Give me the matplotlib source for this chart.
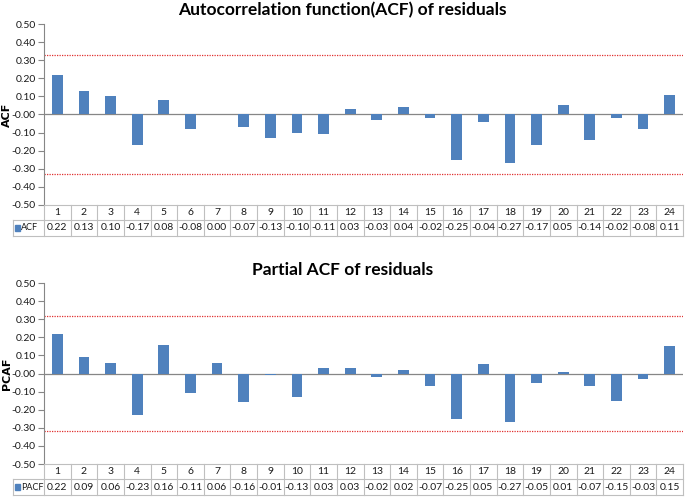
import numpy as np
import matplotlib.pyplot as plt
from matplotlib.patches import Rectangle

plt.rcParams['font.family'] = ['Lato', 'DejaVu Sans']

lags = list(range(1, 25))
acf = [0.22, 0.13, 0.10, -0.17, 0.08, -0.08, 0.00, -0.07, -0.13, -0.10, -0.11, 0.03,
       -0.03, 0.04, -0.02, -0.25, -0.04, -0.27, -0.17, 0.05, -0.14, -0.02, -0.08, 0.11]
pacf = [0.22, 0.09, 0.06, -0.23, 0.16, -0.11, 0.06, -0.16, -0.01, -0.13, 0.03, 0.03,
        -0.02, 0.02, -0.07, -0.25, 0.05, -0.27, -0.05, 0.01, -0.07, -0.15, -0.03, 0.15]
conf_acf = 0.33
conf_pacf = 0.32

W, H = 685, 497
BLUE = '#4F81BD'
GRID = '#BFBFBF'
TXT = '#1A1A1A'

fig = plt.figure(figsize=(W / 100, H / 100), dpi=100)


def px_rect(left, top, right, bottom):
    return [left / W, 1 - bottom / H, (right - left) / W, (bottom - top) / H]


def panel(values, conf, name, ylabel, title, top, bottom, title_y):
    left, right = 44, 683
    ax = fig.add_axes(px_rect(left, top, right, bottom))
    ax.bar(lags, values, width=0.4, color=BLUE, zorder=3)
    ax.axhline(0, color='#868686', lw=0.9, zorder=2)
    for c in (conf, -conf):
        ax.axhline(c, color='#E03030', lw=0.9, ls=(0, (1, 1)), zorder=2)
    ax.set_xlim(0.5, 24.5)
    ax.set_ylim(-0.5, 0.5)
    ax.set_yticks(np.arange(-0.5, 0.51, 0.1))
    ax.set_yticklabels([f'{v:.2f}' for v in np.arange(-0.5, 0.51, 0.1)])
    ax.set_xticks([])
    for s in ('top', 'right', 'bottom'):
        ax.spines[s].set_visible(False)
    ax.spines['left'].set_color('#868686')
    ax.tick_params(axis='y', length=4, color='#868686', labelsize=7.5, labelcolor=TXT, pad=2)
    ax.set_ylabel(ylabel, fontsize=8, fontweight='bold', color='black',
                  family=['DejaVu Sans'])
    ax.yaxis.set_label_coords(-0.05, 0.5)
    fig.text(0.5, 1 - title_y / H, title, ha='center', va='center', fontsize=12.5,
             fontweight='bold', color='black')

    # data table under the plot
    tleft = 13
    row1 = bottom + 15
    row2 = row1 + 16
    cw = (right - left) / 24
    tax = fig.add_axes(px_rect(tleft, bottom, right, row2))
    tax.set_xlim(-(left - tleft) / cw, 24)
    tax.set_ylim(2, 0)
    tax.axis('off')
    h1 = (row1 - bottom) / (row2 - bottom) * 2
    x0 = -(left - tleft) / cw
    kw = dict(color=GRID, lw=0.8, clip_on=False)
    tax.plot([0, 24], [0, 0], **kw)
    tax.plot([0, 24], [h1, h1], **kw)
    tax.plot([x0, 24], [2, 2], **kw)
    tax.plot([x0, 0], [h1, h1], **kw)
    tax.plot([x0, x0], [h1, 2], **kw)
    for i in range(25):
        tax.plot([i, i], [0, 2], **kw)
    for i, (lag, v) in enumerate(zip(lags, values)):
        tax.text(i + 0.5, h1 / 2, str(lag), ha='center', va='center', fontsize=7.5, color=TXT)
        tax.text(i + 0.5, (h1 + 2) / 2, f'{v:.2f}', ha='center', va='center',
                 fontsize=7.5, color=TXT)
    tax.add_patch(Rectangle((x0 + 0.06, (h1 + 2) / 2 - 0.2), 0.19, 0.4,
                            color=BLUE, clip_on=False))
    tax.text(x0 + 0.29, (h1 + 2) / 2, name, ha='left', va='center', fontsize=6.5, color=TXT)


panel(acf, conf_acf, 'ACF', 'ACF', 'Autocorrelation function(ACF) of residuals', 24, 205, 10)
panel(pacf, conf_pacf, 'PACF', 'PCAF', 'Partial ACF of residuals', 283, 464, 270)

fig.savefig('out.png', dpi=100)
